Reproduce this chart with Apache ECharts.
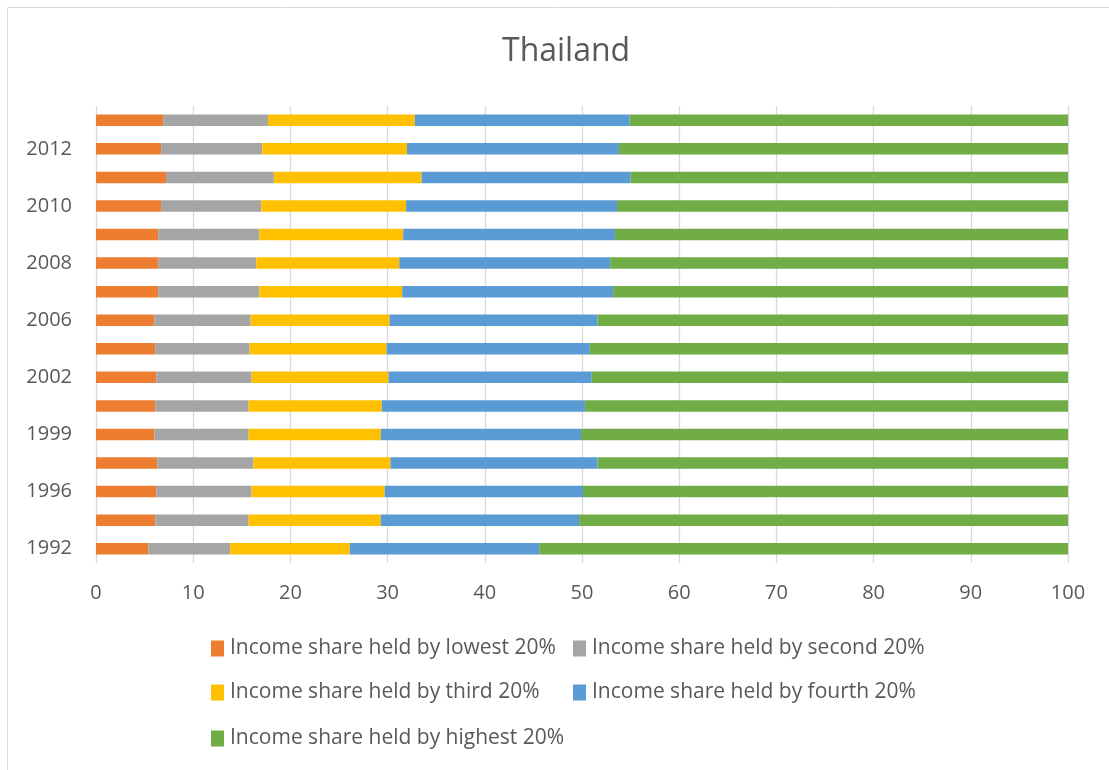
<!DOCTYPE html>
<html>
<head>
<meta charset="utf-8">
<script src="https://cdn.jsdelivr.net/npm/echarts@6/dist/echarts.min.js"></script>
<style>
html,body{margin:0;padding:0;background:#fff;}
#chart{width:1109px;height:770px;}
</style>
</head>
<body>
<div id="chart"></div>
<script>
const years = ['1992','1994','1996','1998','1999','2000','2002','2004','2006','2007','2008','2009','2010','2011','2012','2013'];
const lowest  = [5.4, 6.1, 6.2, 6.3, 6.0, 6.1, 6.2, 6.1, 6.0, 6.4, 6.4, 6.4, 6.7, 7.2, 6.7, 6.9];
const second  = [8.4, 9.6, 9.8, 9.9, 9.7, 9.6, 9.8, 9.7, 9.9, 10.4, 10.1, 10.4, 10.3, 11.1, 10.4, 10.8];
const third   = [12.3, 13.6, 13.7, 14.1, 13.6, 13.7, 14.1, 14.1, 14.3, 14.7, 14.7, 14.8, 14.9, 15.2, 14.9, 15.1];
const fourth  = [19.5, 20.4, 20.4, 21.3, 20.6, 20.9, 20.9, 20.9, 21.4, 21.7, 21.7, 21.8, 21.7, 21.5, 21.8, 22.1];
const highest = [54.4, 50.3, 49.9, 48.4, 50.1, 49.7, 49.0, 49.2, 48.4, 46.8, 47.1, 46.6, 46.4, 45.0, 46.2, 45.1];
const xTicks = [0, 10, 20, 30, 40, 50, 60, 70, 80, 90, 100];

const names = [
  'Income share held by lowest 20%',
  'Income share held by second 20%',
  'Income share held by third 20%',
  'Income share held by fourth 20%',
  'Income share held by highest 20%'
];
const colors = ['#ED7D31', '#A5A5A5', '#FFC000', '#5B9BD5', '#70AD47'];
const values = [lowest, second, third, fourth, highest];

const font = 'Open Sans';
const txt = '#595959';

const legendPos = [
  {left: 211, top: 638},
  {left: 573, top: 638},
  {left: 211, top: 682},
  {left: 573, top: 682},
  {left: 211, top: 728}
];

const chart = echarts.init(document.getElementById('chart'));
chart.setOption({
  animation: false,
  backgroundColor: '#fff',
  color: colors,
  title: {
    text: 'Thailand',
    left: 497,
    top: 31,
    textStyle: {fontFamily: font, fontSize: 32, fontWeight: 'normal', color: txt}
  },
  graphic: [{
    type: 'rect',
    shape: {x: 7.5, y: 7.5, width: 1200, height: 900},
    style: {fill: 'none', stroke: '#d9d9d9', lineWidth: 1}
  }],
  legend: names.map((n, i) => ({
    data: [n],
    left: legendPos[i].left,
    top: legendPos[i].top,
    itemWidth: 13,
    itemHeight: 16,
    itemGap: 0,
    icon: 'rect',
    selectedMode: false,
    textStyle: {fontFamily: font, fontSize: 21, color: txt, padding: [0, 0, 0, 1]},
    padding: 0
  })),
  grid: {left: 96, right: 41, top: 106, bottom: 207, containLabel: false},
  xAxis: {
    type: 'value',
    min: xTicks[0],
    max: xTicks[xTicks.length - 1],
    interval: 10,
    axisLine: {show: false},
    axisTick: {show: false},
    splitLine: {show: true, lineStyle: {color: '#d9d9d9', width: 1.3}},
    axisLabel: {fontFamily: font, fontSize: 20, color: txt, margin: 20}
  },
  yAxis: {
    type: 'category',
    data: years,
    axisLine: {show: false},
    axisTick: {show: false},
    axisLabel: {fontFamily: font, fontSize: 20, color: txt, margin: 24, interval: 1}
  },
  series: names.map((n, i) => ({
    name: n,
    type: 'bar',
    stack: 'total',
    data: values[i],
    barWidth: 11.5,
    itemStyle: {color: colors[i]}
  }))
});
</script>
</body>
</html>
